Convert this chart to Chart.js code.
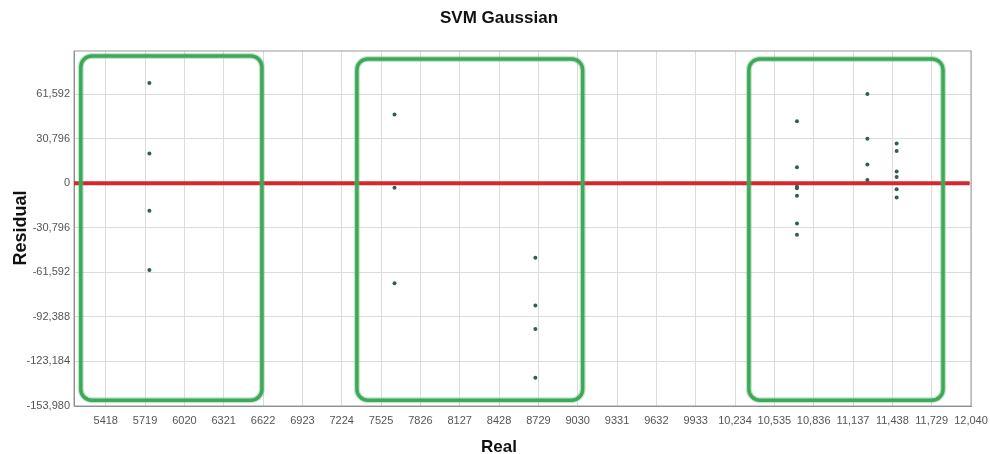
<!DOCTYPE html>
<html>
<head>
<meta charset="utf-8">
<script src="https://cdn.jsdelivr.net/npm/chart.js@4/dist/chart.umd.min.js"></script>
<style>
  html, body { margin: 0; padding: 0; background: #fff; }
  #wrap { width: 990px; height: 454px; }
</style>
</head>
<body>
<div id="wrap"><canvas id="myChart"></canvas></div>
<script>
// residual points (Real, Residual)
const realValues = [
  5752, 5752, 5752, 5752,
  7628, 7628, 7628,
  8706, 8706, 8706, 8706,
  10708, 10708, 10708, 10708, 10708, 10708, 10708,
  11247, 11247, 11247, 11247,
  11471, 11471, 11471, 11471, 11471, 11471
];
const residualValues = [
  69350, 20600, -19020, -60010,
  47580, -3020, -69140,
  -51500, -84460, -100730, -134380,
  42980, 11190, -2330, -3430, -8510, -27740, -35500,
  61800, 30900, 13050, 2270,
  27470, 22380, 8240, 4330, -4120, -9890
];

// zero line
const zeroLineX = [5175, 12030];
const zeroLineY = [0, 0];

// highlighted groups (green rounded boxes), in data units
const boxXMin = [5227, 7340, 10340];
const boxXMax = [6613, 9068, 11826];
const boxYMin = [-149960, -149960, -149960];
const boxYMax = [88100, 86040, 86040];

// axis ticks
const xTickValues = [5418, 5719, 6020, 6321, 6622, 6923, 7224, 7525, 7826, 8127, 8428,
  8729, 9030, 9331, 9632, 9933, 10234, 10535, 10836, 11137, 11438, 11739, 12040];
const xTickLabels = ['5418', '5719', '6020', '6321', '6622', '6923', '7224', '7525', '7826', '8127', '8428',
  '8729', '9030', '9331', '9632', '9933', '10,234', '10,535', '10,836', '11,137', '11,438', '11,729', '12,040'];
const yTickValues = [-153980, -123184, -92388, -61592, -30796, 0, 30796, 61592];
const yTickLabels = ['-153,980', '-123,184', '-92,388', '-61,592', '-30,796', '0', '30,796', '61,592'];

const FONT = "'Liberation Sans', Arial, sans-serif";

const extras = {
  id: 'extras',
  beforeDatasetsDraw(chart) {
    const { ctx, chartArea } = chart;
    ctx.save();
    ctx.strokeStyle = '#9a9a9a';
    ctx.lineWidth = 1;
    ctx.strokeRect(chartArea.left, chartArea.top, chartArea.right - chartArea.left, chartArea.bottom - chartArea.top);
    ctx.restore();
  },
  afterDatasetsDraw(chart) {
    const { ctx, scales } = chart;
    ctx.save();
    for (let i = 0; i < boxXMin.length; i++) {
      const x0 = scales.x.getPixelForValue(boxXMin[i]);
      const x1 = scales.x.getPixelForValue(boxXMax[i]);
      const y0 = scales.y.getPixelForValue(boxYMax[i]);
      const y1 = scales.y.getPixelForValue(boxYMin[i]);
      ctx.beginPath();
      ctx.roundRect(x0, y0, x1 - x0, y1 - y0, 11);
      ctx.strokeStyle = 'rgba(80, 185, 100, 0.35)';
      ctx.lineWidth = 6;
      ctx.stroke();
      ctx.strokeStyle = '#3ea85a';
      ctx.lineWidth = 3.5;
      ctx.stroke();
    }
    ctx.restore();
  },
  afterDraw(chart) {
    const { ctx } = chart;
    ctx.save();
    ctx.fillStyle = '#111';
    ctx.textAlign = 'center';
    ctx.textBaseline = 'middle';
    ctx.font = 'bold 17px ' + FONT;
    ctx.fillText('SVM Gaussian', 499, 18);
    ctx.fillText('Real', 499, 447);
    ctx.translate(21, 228);
    ctx.rotate(-Math.PI / 2);
    ctx.font = 'bold 18px ' + FONT;
    ctx.fillText('Residual', 0, 0);
    ctx.restore();
  }
};

new Chart(document.getElementById('myChart'), {
  data: {
    datasets: [
      {
        type: 'line',
        data: zeroLineX.map((x, i) => ({ x: x, y: zeroLineY[i] })),
        borderColor: '#d8262e',
        borderWidth: 4,
        pointRadius: 0,
        order: 2
      },
      {
        type: 'scatter',
        data: realValues.map((x, i) => ({ x: x, y: residualValues[i] })),
        backgroundColor: '#2f5f55',
        borderColor: '#2f5f55',
        pointRadius: 2,
        borderWidth: 0,
        order: 1
      }
    ]
  },
  plugins: [extras],
  options: {
    responsive: true,
    maintainAspectRatio: false,
    animation: false,
    layout: { padding: { top: 51, right: 19, left: 0, bottom: 0 } },
    plugins: {
      legend: { display: false },
      tooltip: { enabled: false },
      title: { display: false }
    },
    scales: {
      x: {
        type: 'linear',
        min: 5175,
        max: 12040,
        afterBuildTicks: (scale) => { scale.ticks = xTickValues.map(v => ({ value: v })); },
        afterFit: (scale) => { scale.height = 48; scale.paddingRight = 0; scale.paddingLeft = 0; },
        ticks: {
          autoSkip: false,
          maxRotation: 0,
          padding: 8,
          color: '#555',
          font: { family: FONT, size: 11 },
          callback: (v, i) => xTickLabels[i]
        },
        grid: { color: '#dcdcdc', drawTicks: false },
        border: { color: '#888', width: 1 }
      },
      y: {
        type: 'linear',
        min: -153980,
        max: 91500,
        afterBuildTicks: (scale) => { scale.ticks = yTickValues.map(v => ({ value: v })); },
        afterFit: (scale) => { scale.width = 74; scale.paddingTop = 0; scale.paddingBottom = 0; },
        ticks: {
          autoSkip: false,
          padding: 4,
          color: '#555',
          font: { family: FONT, size: 11 },
          callback: (v, i) => yTickLabels[i]
        },
        grid: { color: '#dcdcdc', drawTicks: false },
        border: { color: '#888', width: 1 }
      }
    }
  }
});
</script>
</body>
</html>
